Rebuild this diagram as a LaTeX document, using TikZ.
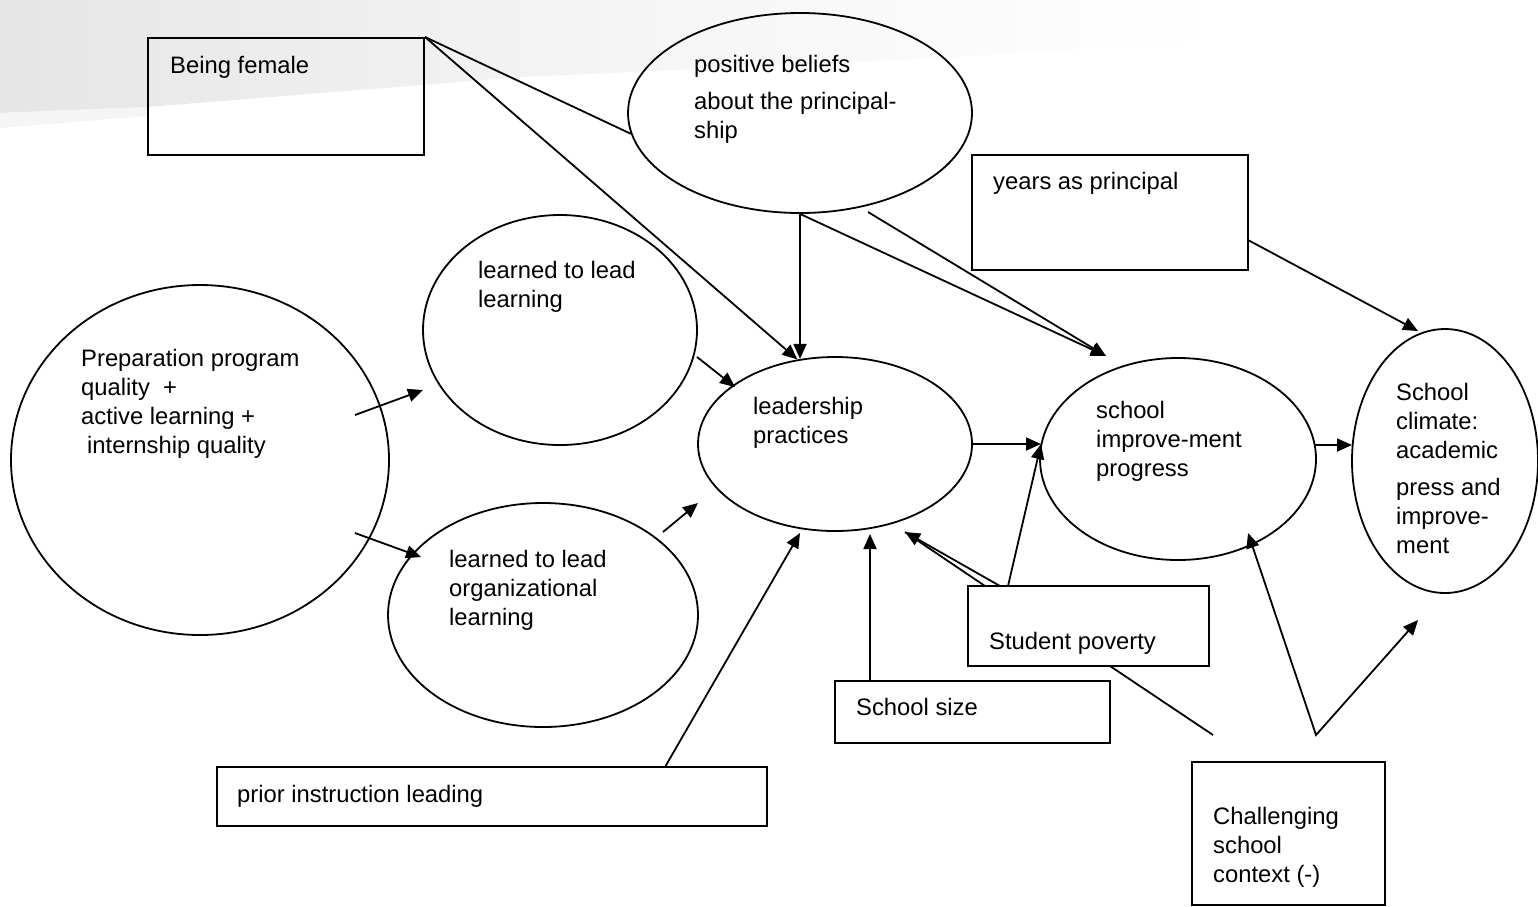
\documentclass[tikz,border=0pt]{standalone}
\usepackage{fontspec}
\setmainfont{Liberation Sans}
\usetikzlibrary{shapes.geometric,arrows.meta}
\tikzset{
  box/.style={draw, line width=2pt, minimum width=#1, inner sep=0pt},
  oval/.style={draw, ellipse, line width=1.8pt, inner sep=0pt},
  lbl/.style={anchor=base west, inner sep=0pt, align=left, font=\fontsize{23.8}{29}\selectfont},
  arr/.style={line width=1.8pt, -{Triangle[length=15pt,width=13pt]}},
  ln/.style={line width=1.8pt},
}
\begin{document}
\begin{tikzpicture}[x=1pt,y=-1pt]
\useasboundingbox (0,0) rectangle (1538,906);
% background band
\shade[left color=gray!20, right color=white, middle color=gray!8]
  (0,0) -- (1225,0) -- (1225,40) -- (940,58) -- (523,77) -- (147,107) -- (0,113) -- cycle;
\fill[gray!10, opacity=0.8] (0,113) -- (147,107) -- (147,116) -- (0,128) -- cycle;

% nodes
\node[box=276pt, minimum height=117pt] (bf) at (286,96.5) {};
\node[box=276pt, minimum height=115pt] (yp) at (1110,212.5) {};
\node[box=241pt, minimum height=80pt] (sp) at (1088.5,626) {};
\node[box=275pt, minimum height=62pt] (ss) at (972.5,712) {};
\node[box=550pt, minimum height=59pt] (pr) at (492,796.5) {};
\node[box=193pt, minimum height=143pt] (cs) at (1288.5,833.5) {};

\node[oval, minimum width=344pt, minimum height=200pt] (pb) at (800,113) {};
\node[oval, minimum width=274pt, minimum height=230pt] (ll) at (560,330) {};
\node[oval, minimum width=378pt, minimum height=350pt] (pp) at (200,460) {};
\node[oval, minimum width=310pt, minimum height=224pt] (lo) at (543,615) {};
\node[oval, minimum width=274pt, minimum height=174pt] (lp) at (835,444) {};
\node[oval, minimum width=276pt, minimum height=202pt] (si) at (1178,459) {};
\node[oval, minimum width=186pt, minimum height=264pt] (sc) at (1445,461) {};

% labels (anchor = baseline of the last line)
\node[lbl] (tbf) at (170,73) {Being female};
\node[lbl] (tpb) at (694,138) {positive beliefs\\[8pt]about the principal-\\ship};
\node[lbl] (typ) at (993,189) {years as principal};
\node[lbl] (tll) at (478,307) {learned to lead\\learning};
\node[lbl] (tpp) at (81,453) {Preparation program\\quality~ +\\active learning +\\\hspace{6pt}internship quality};
\node[lbl] (tlp) at (753,443) {leadership\\practices};
\node[lbl] (tsi) at (1096,476) {school\\improve-ment\\progress};
\node[lbl] (tsc) at (1396,553) {School\\climate:\\academic\\[8pt]press and\\improve-\\ment};
\node[lbl] (tlo) at (449,625) {learned to lead\\organizational\\learning};
\node[lbl] (tsp) at (989,649) {Student poverty};
\node[lbl] (tss) at (856,715) {School size};
\node[lbl] (tpr) at (237,802) {prior instruction leading};
\node[lbl] (tcs) at (1213,882) {Challenging\\school\\context (-)};

% free connector ends
\coordinate (pbB) at (868,212);
\coordinate (siTop) at (1106,356);
\coordinate (ypOut) at (1248,240);
\coordinate (scTop) at (1418,331);
\coordinate (ppA) at (355,415);
\coordinate (llIn) at (423,390);
\coordinate (ppB) at (355,533);
\coordinate (loIn) at (421,557);
\coordinate (llOut) at (697,357);
\coordinate (lpA) at (735,387);
\coordinate (loOut) at (663,532);
\coordinate (lpB) at (698,503);
\coordinate (siR) at (1315,445);
\coordinate (scL) at (1352,445);
\coordinate (prOut) at (665,767);
\coordinate (lpC) at (800,533);
\coordinate (ssOut) at (870,681);
\coordinate (lpD) at (870,534);
\coordinate (spA) at (985,586);
\coordinate (spB) at (1000,586);
\coordinate (lpE) at (905,532);
\coordinate (spC) at (1008,586);
\coordinate (siL) at (1041,444);
\coordinate (spD) at (1110,666);
\coordinate (csA) at (1213,735);
\coordinate (siBot) at (1248,533);
\coordinate (csV) at (1316,735);
\coordinate (scBot) at (1418,620);

% connectors
\draw[ln] (bf.north east) -- (pb.187);
\draw[arr] (bf.north east) -- (lp.114);
\draw[arr] (pb.south) -- (pb.south |- lp.112);
\draw[arr] (pb.south) -- (siTop);
\draw[arr] (pbB) -- (siTop);
\draw[arr] (ypOut) -- (scTop);
\draw[arr] (ppA) -- (llIn);
\draw[arr] (ppB) -- (loIn);
\draw[arr] (llOut) -- (lpA);
\draw[arr] (loOut) -- (lpB);
\draw[arr] (lp.east) -- (siL);
\draw[arr] (siR) -- (scL);
\draw[arr] (prOut) -- (lpC);
\draw[arr] (ssOut) -- (lpD);
\draw[ln] (spA) -- (lpE);
\draw[arr] (spB) -- (lpE);
\draw[arr] (spC) -- (siL);
\draw[ln] (spD) -- (csA);
\draw[line width=1.8pt, {Triangle[length=15pt,width=13pt]}-{Triangle[length=15pt,width=13pt]}] (siBot) -- (csV) -- (scBot);
\end{tikzpicture}
\end{document}
